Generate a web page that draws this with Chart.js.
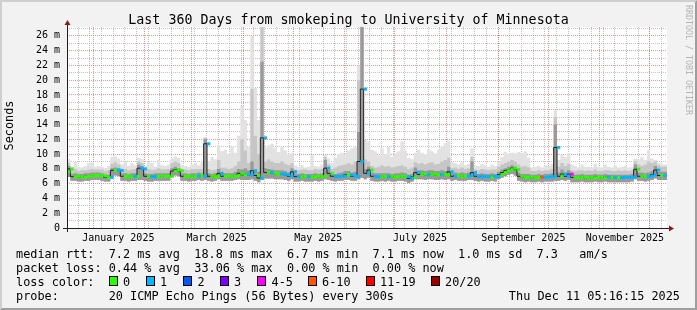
<!DOCTYPE html>
<html>
<head>
<meta charset="utf-8">
<script src="https://cdn.jsdelivr.net/npm/chart.js@4.4.1/dist/chart.umd.min.js"></script>
<style>
  html, body { margin: 0; padding: 0; background: #f2f2f2; }
  canvas { display: block; }
</style>
</head>
<body>
<canvas id="rrd" width="697" height="310"></canvas>
<script>
// time range of the graph
const endTime = Date.UTC(2025, 11, 11, 5, 16, 15);
const spanDays = 360;
const binDays = 2;
const startTime = endTime - spanDays * 864e5;

// median rtt per 2-day bin (ms)
const rttMed = [
  7.6, 8.0, 6.95, 7.0, 6.9, 6.9, 7.0, 7.05, 7.1, 7.1,
  7.1, 7.05, 6.85, 6.85, 7.8, 7.85, 7.8, 7.0, 7.0, 6.95,
  7.0, 7.0, 8.1, 8.0, 7.0, 6.95, 6.95, 7.0, 7.05, 7.0,
  7.0, 7.0, 7.7, 7.9, 7.75, 7.0, 7.0, 6.95, 7.0, 7.05,
  7.1, 7.0, 11.4, 7.0, 6.95, 7.0, 7.4, 7.0, 7.05, 7.0,
  7.0, 7.1, 7.4, 7.2, 7.3, 7.2, 7.75, 7.1, 6.75, 12.2,
  7.5, 7.5, 7.4, 7.3, 7.3, 7.3, 7.2, 7.0, 7.6, 6.95,
  6.95, 7.0, 6.95, 6.9, 6.95, 7.0, 6.95, 7.0, 8.1, 7.4,
  7.0, 6.95, 7.0, 7.0, 7.2, 7.2, 7.0, 7.0, 9.0, 18.8,
  7.4, 7.85, 7.0, 6.95, 6.95, 7.0, 6.95, 7.0, 6.9, 6.95,
  7.0, 7.0, 6.95, 6.7, 6.9, 7.5, 7.25, 7.3, 7.2, 7.25,
  7.3, 7.2, 7.2, 7.25, 7.2, 7.6, 7.0, 7.1, 7.0, 7.05,
  7.0, 7.1, 7.5, 7.0, 6.9, 7.0, 6.95, 6.9, 7.0, 6.95,
  7.2, 7.5, 7.75, 7.9, 8.1, 7.9, 7.0, 6.9, 6.85, 6.9,
  6.8, 6.85, 6.9, 6.85, 6.9, 6.95, 6.95, 10.9, 7.0, 7.3,
  7.0, 7.3, 6.85, 6.8, 6.85, 6.9, 6.8, 6.85, 6.8, 6.9,
  6.85, 6.8, 6.9, 6.85, 6.85, 6.8, 6.8, 6.85, 6.85, 6.85,
  6.9, 7.95, 7.0, 7.0, 6.95, 7.0, 7.2, 7.85, 7.1, 7.1
];

// smoke: lowest ping, upper edge of dark core, upper edge of mid smoke, highest ping (ms)
const rttLo = [
  6.8, 6.9, 6.4, 6.4, 6.3, 6.3, 6.4, 6.4, 6.5, 6.5,
  6.5, 6.4, 6.3, 6.3, 7.0, 7.1, 7.0, 6.4, 6.4, 6.3,
  6.4, 6.4, 6.5, 6.5, 6.4, 6.3, 6.3, 6.4, 6.4, 6.4,
  6.4, 6.4, 6.9, 7.1, 7.0, 6.4, 6.4, 6.3, 6.4, 6.4,
  6.5, 6.4, 6.5, 6.4, 6.3, 6.4, 6.6, 6.4, 6.4, 6.4,
  6.4, 6.5, 6.6, 6.5, 6.5, 6.5, 6.6, 6.4, 6.2, 6.5,
  6.7, 6.7, 6.7, 6.6, 6.6, 6.6, 6.5, 6.4, 6.6, 6.3,
  6.3, 6.4, 6.3, 6.3, 6.3, 6.4, 6.3, 6.4, 6.6, 6.5,
  6.4, 6.3, 6.4, 6.4, 6.5, 6.5, 6.4, 6.4, 6.6, 6.8,
  6.6, 6.8, 6.4, 6.3, 6.3, 6.4, 6.3, 6.4, 6.3, 6.3,
  6.4, 6.4, 6.3, 6.1, 6.3, 6.6, 6.6, 6.6, 6.5, 6.6,
  6.6, 6.5, 6.5, 6.6, 6.5, 6.6, 6.4, 6.5, 6.4, 6.4,
  6.4, 6.5, 6.5, 6.4, 6.3, 6.4, 6.3, 6.3, 6.4, 6.3,
  6.6, 6.8, 7.0, 7.2, 7.3, 7.1, 6.4, 6.3, 6.2, 6.3,
  6.2, 6.2, 6.3, 6.2, 6.3, 6.3, 6.3, 6.4, 6.4, 6.5,
  6.4, 6.5, 6.2, 6.2, 6.2, 6.3, 6.2, 6.2, 6.2, 6.3,
  6.2, 6.2, 6.3, 6.2, 6.2, 6.2, 6.2, 6.2, 6.2, 6.2,
  6.3, 6.6, 6.4, 6.4, 6.3, 6.4, 6.5, 6.7, 6.5, 6.5
];
const rttHi = [
  8.0, 8.4, 7.3, 7.4, 7.3, 7.3, 7.4, 7.4, 7.5, 7.5,
  7.5, 7.4, 7.2, 7.2, 8.1, 8.2, 8.1, 7.4, 7.4, 7.3,
  7.4, 7.4, 8.6, 8.4, 7.4, 7.3, 7.3, 7.4, 7.4, 7.4,
  7.4, 7.4, 8.1, 8.3, 8.1, 7.4, 7.4, 7.3, 7.4, 7.4,
  7.5, 7.4, 12.0, 7.4, 7.3, 7.4, 8.0, 7.4, 7.4, 7.4,
  7.4, 7.6, 8.0, 7.9, 8.1, 7.8, 9.0, 7.8, 7.6, 22.5,
  8.1, 8.0, 7.9, 7.8, 7.8, 7.8, 7.7, 7.5, 8.1, 7.3,
  7.3, 7.4, 7.3, 7.3, 7.3, 7.4, 7.3, 7.4, 9.2, 7.9,
  7.4, 7.3, 7.4, 7.5, 7.7, 7.7, 7.5, 7.6, 13.0, 27.2,
  8.0, 8.3, 7.5, 7.4, 7.4, 7.4, 7.4, 7.4, 7.3, 7.4,
  7.4, 7.5, 7.4, 7.2, 7.3, 8.2, 7.8, 7.8, 7.7, 7.8,
  7.8, 7.7, 7.7, 7.8, 7.7, 8.3, 7.4, 7.5, 7.4, 7.5,
  7.4, 7.5, 9.0, 7.4, 7.3, 7.4, 7.3, 7.3, 7.4, 7.3,
  7.6, 7.9, 8.1, 8.3, 8.5, 8.3, 7.5, 7.3, 7.3, 7.3,
  7.2, 7.2, 7.3, 7.2, 7.3, 7.3, 7.4, 14.0, 7.5, 7.9,
  7.5, 7.8, 7.2, 7.2, 7.2, 7.3, 7.2, 7.2, 7.2, 7.3,
  7.2, 7.2, 7.3, 7.2, 7.2, 7.2, 7.2, 7.2, 7.2, 7.2,
  7.3, 8.6, 7.5, 7.5, 7.4, 7.5, 7.7, 8.4, 7.6, 7.6
];
const rttP90 = [
  8.6, 8.8, 7.8, 8.0, 7.7, 7.8, 7.8, 7.9, 8.0, 7.9,
  7.9, 7.9, 7.7, 7.8, 8.7, 8.9, 8.6, 7.9, 8.0, 7.8,
  7.9, 8.0, 9.0, 8.8, 7.9, 8.0, 7.8, 7.9, 8.1, 7.9,
  7.9, 8.0, 8.8, 9.0, 8.8, 7.9, 7.9, 7.8, 8.0, 8.0,
  8.0, 8.0, 12.2, 8.0, 7.8, 7.9, 9.2, 8.2, 8.2, 8.0,
  8.1, 8.4, 9.0, 12.0, 10.5, 8.8, 18.8, 12.5, 10.0, 27.2,
  9.0, 9.3, 9.0, 8.8, 8.8, 9.0, 8.7, 8.5, 8.8, 7.9,
  7.8, 7.9, 7.9, 7.8, 7.8, 8.0, 7.9, 8.0, 9.6, 8.6,
  8.0, 8.2, 8.4, 8.5, 8.6, 8.8, 8.6, 9.0, 20.0, 27.2,
  9.3, 9.0, 8.4, 8.2, 8.3, 8.5, 8.3, 8.4, 8.2, 8.3,
  8.4, 8.5, 8.3, 8.0, 8.2, 8.9, 8.7, 8.8, 8.6, 8.8,
  8.9, 8.6, 8.7, 9.0, 9.2, 9.5, 8.1, 8.2, 8.0, 8.2,
  8.0, 8.1, 9.6, 7.9, 7.8, 8.0, 7.9, 7.8, 7.9, 7.9,
  8.3, 8.6, 8.8, 9.0, 9.2, 9.0, 8.6, 8.3, 8.4, 8.2,
  7.7, 7.7, 7.8, 7.7, 7.8, 7.8, 8.0, 15.0, 8.3, 8.8,
  8.4, 8.7, 7.8, 7.7, 7.8, 7.8, 7.7, 7.8, 7.7, 7.9,
  7.7, 7.7, 7.8, 7.8, 7.7, 7.7, 7.8, 7.7, 7.8, 7.7,
  7.8, 9.0, 8.6, 8.4, 8.6, 9.0, 8.8, 9.0, 8.5, 8.3
];
const rttMax = [
  9.2, 9.3, 8.2, 9.0, 8.3, 8.2, 8.4, 8.8, 8.9, 8.3,
  8.4, 8.3, 8.1, 8.4, 9.6, 9.7, 9.4, 8.6, 9.0, 8.4,
  8.8, 8.5, 9.5, 9.3, 8.4, 8.9, 8.8, 8.3, 9.2, 8.5,
  8.4, 8.6, 9.4, 9.7, 9.5, 8.5, 8.4, 8.3, 8.6, 8.8,
  8.5, 8.9, 12.3, 9.0, 9.6, 9.3, 11.2, 10.4, 10.6, 10.0,
  11.0, 10.2, 12.5, 16.5, 14.6, 11.0, 26.0, 19.0, 14.6, 27.2,
  10.9, 11.2, 11.4, 10.8, 10.3, 11.0, 10.5, 10.0, 10.2, 8.5,
  8.3, 8.5, 8.2, 8.3, 9.9, 8.4, 8.3, 8.6, 9.9, 9.4,
  8.8, 9.5, 10.0, 10.2, 10.0, 10.5, 10.8, 11.0, 22.0, 27.2,
  11.9, 11.7, 10.6, 10.4, 9.8, 10.8, 10.0, 11.0, 9.6, 10.2,
  10.4, 11.7, 10.5, 9.5, 9.3, 10.2, 10.6, 10.2, 10.0, 10.6,
  10.4, 10.1, 10.6, 11.0, 11.5, 11.8, 8.9, 8.8, 8.6, 8.9,
  8.5, 8.7, 10.8, 8.5, 8.4, 8.7, 8.5, 8.3, 8.6, 8.4,
  9.0, 9.6, 10.3, 10.0, 10.2, 10.1, 10.3, 10.1, 10.4, 9.5,
  8.2, 8.3, 8.4, 8.2, 8.5, 8.4, 8.7, 16.0, 9.2, 9.9,
  9.6, 10.1, 8.6, 8.4, 8.2, 8.6, 8.3, 8.3, 8.2, 8.7,
  8.3, 8.2, 8.6, 8.3, 8.2, 8.5, 8.2, 8.3, 8.4, 8.2,
  8.3, 9.4, 9.3, 9.6, 9.2, 10.5, 9.4, 9.2, 8.8, 8.6
];

// loss class per bin (index into lossLabels)
const lossBin = [
  0, 0, 0, 0, 0, 0, 0, 0, 0, 0,
  0, 0, 0, 1, 0, 1, 1, 0, 0, 0,
  1, 0, 1, 1, 0, 1, 1, 0, 0, 0,
  0, 0, 0, 0, 0, 0, 0, 0, 0, 1,
  0, 1, 1, 0, 0, 0, 1, 0, 0, 0,
  0, 0, 0, 0, 1, 1, 1, 0, 1, 1,
  0, 1, 0, 0, 1, 1, 1, 1, 1, 1,
  0, 0, 1, 0, 0, 0, 0, 0, 1, 0,
  1, 1, 1, 1, 0, 1, 1, 1, 1, 1,
  1, 0, 1, 1, 0, 0, 1, 0, 0, 0,
  0, 0, 1, 1, 0, 1, 0, 0, 1, 0,
  0, 0, 1, 0, 0, 1, 1, 0, 0, 0,
  1, 1, 1, 1, 1, 1, 1, 0, 1, 1,
  0, 0, 0, 0, 0, 0, 0, 0, 0, 0,
  0, 0, 5, 1, 1, 1, 1, 1, 0, 1,
  1, 4, 0, 0, 0, 0, 0, 0, 0, 0,
  0, 0, 1, 0, 1, 0, 1, 1, 1, 1,
  1, 0, 0, 0, 1, 1, 1, 1, 0, 1
];

const lossLabels = ['0', '1', '2', '3', '4-5', '6-10', '11-19', '20/20'];
const lossColors = ['#26ff00', '#00b8ff', '#0059ff', '#7e00ff', '#ff00ff', '#ff5500', '#ff0000', '#a10000'];

const monthLabels = ['January 2025', 'March 2025', 'May 2025', 'July 2025', 'September 2025', 'November 2025'];
const labelMonths = [0, 2, 4, 6, 8, 10];

const titleText = 'Last 360 Days from smokeping to University of Minnesota';
const legendLines = [
  'median rtt:  7.2 ms avg  18.8 ms max  6.7 ms min  7.1 ms now  1.0 ms sd  7.3   am/s',
  'packet loss: 0.44 % avg  33.06 % max  0.00 % min  0.00 % now',
  'loss color:',
  'probe:       20 ICMP Echo Pings (56 Bytes) every 300s'
];
const stampText = 'Thu Dec 11 05:16:15 2025';

const MONO = '"DejaVu Sans Mono", monospace';
const BACK = '#f2f2f2', CANVAS_BG = '#ffffff', SHADEA = '#cfcfcf', SHADEB = '#9e9e9e';
const GRID = 'rgba(143,143,143,0.55)', MGRID = 'rgba(222,79,79,0.6)';
const AXIS = '#1f1f1f', ARROW = '#801f1f';

const dayOf = t => (t - startTime) / 864e5;

// step series: each value holds for its whole bin
const stepPts = arr => arr.map((v, i) => ({x: i * binDays, y: v}))
  .concat([{x: arr.length * binDays, y: arr[arr.length - 1]}]);

// loss coloured median: one short horizontal piece per bin
const lossPts = [];
rttMed.forEach((v, i) => {
  lossPts.push({x: i * binDays, y: v}, {x: (i + 1) * binDays, y: v}, {x: (i + 1) * binDays, y: null});
});

// grid: weekly (monday) minor lines, monthly major lines
const gridTicks = [];
for (let t = Date.UTC(2024, 11, 23); t < endTime; t += 7 * 864e5) {
  gridTicks.push({value: dayOf(t), major: false});
}
for (let m = 0; m < 12; m++) {
  const t = Date.UTC(2025, m, 1);
  if (t > startTime && t < endTime) gridTicks.push({value: dayOf(t), major: true});
}
gridTicks.sort((a, b) => a.value - b.value);

const labelDays = labelMonths.map(m => dayOf(Date.UTC(2025, m, 16)));

const yGrid = [];
for (let v = 0; v <= 27; v++) yGrid.push(v);

const rrdDecor = {
  id: 'rrdDecor',
  beforeDraw(chart) {
    const {ctx, width: W, height: H, chartArea: a} = chart;
    ctx.save();
    ctx.fillStyle = BACK;
    ctx.fillRect(0, 0, W, H);
    ctx.fillStyle = SHADEA;
    ctx.beginPath();
    ctx.moveTo(0, H); ctx.lineTo(2, H - 2); ctx.lineTo(2, 2);
    ctx.lineTo(W - 2, 2); ctx.lineTo(W, 0); ctx.lineTo(0, 0);
    ctx.closePath(); ctx.fill();
    ctx.fillStyle = SHADEB;
    ctx.beginPath();
    ctx.moveTo(2, H - 2); ctx.lineTo(W - 2, H - 2); ctx.lineTo(W - 2, 2);
    ctx.lineTo(W, 0); ctx.lineTo(W, H); ctx.lineTo(0, H);
    ctx.closePath(); ctx.fill();
    ctx.fillStyle = CANVAS_BG;
    ctx.fillRect(a.left, a.top, a.right - a.left, a.bottom - a.top);
    ctx.restore();
  },
  afterDatasetsDraw(chart) {
    const {ctx, chartArea: a} = chart;
    ctx.save();
    ctx.strokeStyle = AXIS;
    ctx.lineWidth = 1;
    ctx.beginPath();
    ctx.moveTo(a.left - 4, a.bottom + 0.5); ctx.lineTo(a.right + 4, a.bottom + 0.5);
    ctx.moveTo(a.left + 0.5, a.bottom + 4); ctx.lineTo(a.left + 0.5, a.top - 4);
    ctx.stroke();
    ctx.fillStyle = ARROW;
    ctx.beginPath();
    ctx.moveTo(a.right + 2, a.bottom - 2.5); ctx.lineTo(a.right + 2, a.bottom + 3.5);
    ctx.lineTo(a.right + 7, a.bottom + 0.5); ctx.closePath(); ctx.fill();
    ctx.beginPath();
    ctx.moveTo(a.left - 2.5, a.top - 2); ctx.lineTo(a.left + 3.5, a.top - 2);
    ctx.lineTo(a.left + 0.5, a.top - 7); ctx.closePath(); ctx.fill();
    ctx.restore();
  },
  afterDraw(chart) {
    const ctx = chart.ctx;
    ctx.save();
    ctx.fillStyle = '#000';

    // title
    ctx.font = '13.3px ' + MONO;
    ctx.textAlign = 'center';
    ctx.textBaseline = 'alphabetic';
    ctx.fillText(titleText, 348.5, 24);

    // vertical axis label
    ctx.save();
    ctx.translate(10, 125.5);
    ctx.rotate(-Math.PI / 2);
    ctx.font = '11.85px ' + MONO;
    ctx.textBaseline = 'middle';
    ctx.fillText('Seconds', 0, 0);
    ctx.restore();

    // watermark
    ctx.save();
    ctx.translate(688, 5);
    ctx.rotate(Math.PI / 2);
    ctx.font = '8.3px ' + MONO;
    ctx.fillStyle = '#b4b4b4';
    ctx.textAlign = 'left';
    ctx.textBaseline = 'middle';
    ctx.fillText('RRDTOOL / TOBI OETIKER', 0, 0);
    ctx.restore();

    // legend
    ctx.font = '11.85px ' + MONO;
    ctx.textAlign = 'left';
    ctx.textBaseline = 'alphabetic';
    legendLines.forEach((s, k) => ctx.fillText(s, 16, 258 + 14 * k));
    const boxX = [108.5, 145.5, 183, 219.5, 257, 307.5, 365.5, 430.5];
    lossLabels.forEach((lab, k) => {
      const bx = Math.round(boxX[k]);
      ctx.fillStyle = lossColors[k];
      ctx.fillRect(bx, 276, 9, 10);
      ctx.strokeStyle = '#000';
      ctx.lineWidth = 1;
      ctx.strokeRect(bx + 0.5, 276.5, 8, 9);
      ctx.fillStyle = '#000';
      ctx.fillText(lab, boxX[k] + 14.5, 286);
    });
    ctx.textAlign = 'right';
    ctx.fillText(stampText, 680, 300);
    ctx.restore();
  }
};

const smokeSet = (label, arr, color, order) => ({
  label, data: stepPts(arr), order,
  stepped: 'after', pointRadius: 0, borderWidth: 0, borderColor: 'rgba(0,0,0,0)',
  backgroundColor: color, fill: 0
});

new Chart(document.getElementById('rrd'), {
  type: 'line',
  data: {
    datasets: [
      {
        label: 'min', data: stepPts(rttLo), order: 6,
        stepped: 'after', pointRadius: 0, borderWidth: 0,
        borderColor: 'rgba(0,0,0,0)', fill: false
      },
      smokeSet('max', rttMax, '#e2e2e2', 5),
      smokeSet('p90', rttP90, '#c6c6c6', 4),
      smokeSet('core', rttHi, '#999999', 3),
      {
        label: 'median', data: stepPts(rttMed), order: 2,
        stepped: 'after', pointRadius: 0, borderWidth: 1,
        borderColor: '#202020', fill: false
      },
      {
        label: 'loss', data: lossPts, order: 1,
        pointRadius: 0, borderWidth: 3, borderCapStyle: 'butt',
        borderColor: lossColors[0], fill: false, spanGaps: false,
        segment: {
          borderColor: c => lossColors[lossBin[Math.round(c.p0.parsed.x / binDays)]]
        }
      }
    ]
  },
  options: {
    responsive: false,
    devicePixelRatio: 1,
    animation: false,
    events: [],
    layout: {padding: {top: 27, right: 30, bottom: 62, left: 0}},
    plugins: {legend: {display: false}, title: {display: false}, tooltip: {enabled: false}},
    scales: {
      x: {
        type: 'linear', min: 0, max: spanDays, position: 'bottom',
        afterBuildTicks: s => { s.ticks = gridTicks.map(t => ({value: t.value, major: t.major})); },
        afterFit: s => { s.height = 0; },
        grid: {drawTicks: false, lineWidth: 1, color: c => (c.tick && c.tick.major) ? MGRID : GRID},
        border: {display: false, dash: [1, 1]},
        ticks: {display: false}
      },
      x2: {
        type: 'linear', min: 0, max: spanDays, position: 'bottom',
        afterBuildTicks: s => { s.ticks = labelDays.map(v => ({value: v})); },
        afterFit: s => { s.height = 20; },
        grid: {display: false, drawTicks: false},
        border: {display: false},
        ticks: {
          autoSkip: false, maxRotation: 0, padding: 4, color: '#000',
          font: {family: MONO, size: 10},
          callback: (v, k) => monthLabels[k]
        }
      },
      y: {
        min: 0, max: 27.2,
        afterBuildTicks: s => { s.ticks = yGrid.map(v => ({value: v})); },
        afterFit: s => { s.width = 67; },
        grid: {drawTicks: false, lineWidth: 1, color: c => (c.tick && c.tick.value % 2 === 0) ? MGRID : GRID},
        border: {display: false, dash: [1, 1]},
        ticks: {
          autoSkip: false, padding: 7, color: '#000',
          font: {family: MONO, size: 10},
          callback: v => v % 2 ? '' : (v === 0 ? '0' : v + ' m')
        }
      }
    }
  },
  plugins: [rrdDecor]
});
</script>
</body>
</html>
